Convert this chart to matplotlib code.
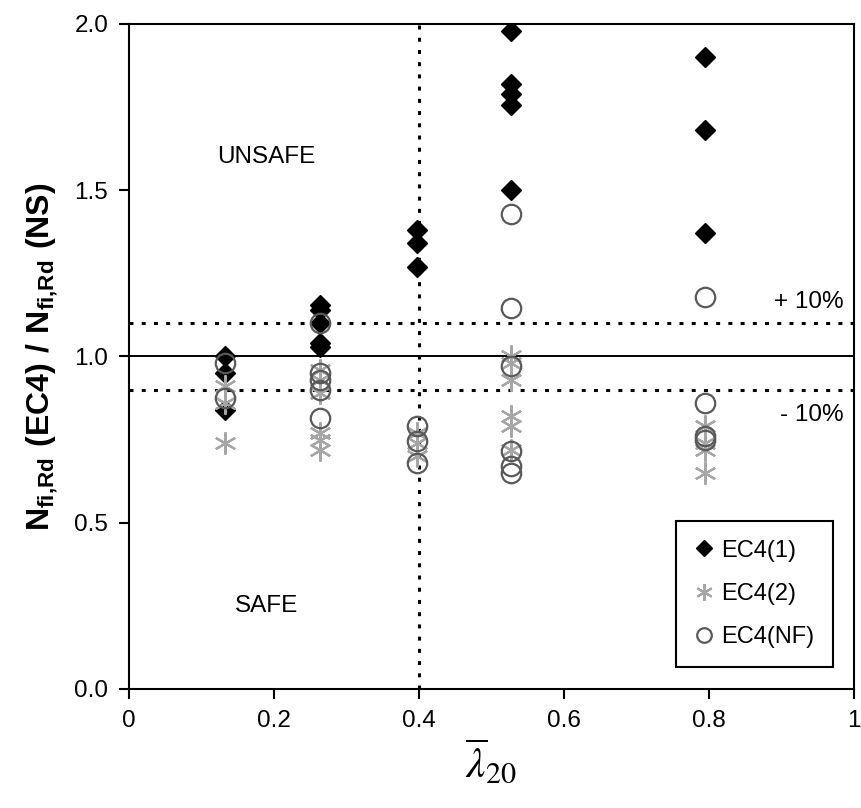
import numpy as np
import matplotlib
matplotlib.use("Agg")
import matplotlib.pyplot as plt

plt.rcParams["font.family"] = ["Liberation Sans", "DejaVu Sans"]
plt.rcParams["mathtext.fontset"] = "custom"
plt.rcParams["mathtext.rm"] = "Liberation Sans"
plt.rcParams["mathtext.bf"] = "Liberation Sans:bold"

# slenderness values of the column groups
lam = [0.132, 0.264, 0.397, 0.527, 0.795]

# ratio N_fi,Rd(EC4) / N_fi,Rd(NS), one list per slenderness group
ec4_1 = [
    [1.00, 0.95, 0.84],
    [1.155, 1.14, 1.10, 1.04, 1.03],
    [1.38, 1.34, 1.27],
    [1.98, 1.82, 1.79, 1.755, 1.50],
    [1.90, 1.68, 1.37],
]
ec4_2 = [
    [0.91, 0.86, 0.74],
    [0.96, 0.93, 0.89, 0.77, 0.75, 0.72],
    [0.77, 0.74, 0.70],
    [1.00, 0.98, 0.93, 0.82, 0.79, 0.72],
    [0.79, 0.74, 0.72, 0.65],
]
ec4_nf = [
    [0.98, 0.875],
    [1.10, 0.95, 0.93, 0.90, 0.815],
    [0.79, 0.745, 0.68],
    [1.43, 1.145, 0.97, 0.715, 0.67, 0.65],
    [1.18, 0.86, 0.76, 0.75],
]


def flatten(groups):
    xs, ys = [], []
    for x, vals in zip(lam, groups):
        xs += [x] * len(vals)
        ys += vals
    return np.array(xs), np.array(ys)


fig = plt.figure(figsize=(8.61, 8.08), dpi=100)
ax = fig.add_axes([0.1498, 0.1473, 0.8421, 0.8230])

dot = (0, (1.3, 2.7))
ax.axhline(1.0, color="black", lw=1.4, zorder=1)
ax.axhline(1.1, color="black", lw=2.2, ls=dot, zorder=1)
ax.axhline(0.9, color="black", lw=2.2, ls=dot, zorder=1)
ax.axvline(0.4, color="black", lw=2.2, ls=dot, zorder=1)

x, y = flatten(ec4_1)
ax.plot(x, y, ls="none", marker="D", ms=10.5, color="black", mec="black",
        label="EC4(1)", zorder=3)
x, y = flatten(ec4_2)
ax.plot(x, y, ls="none", marker=(6, 2, 0), ms=16, color="#a6a6a6", mew=1.6,
        label="EC4(2)", zorder=4)
x, y = flatten(ec4_nf)
ax.plot(x, y, ls="none", marker="o", ms=14, mfc="none", mec="#595959", mew=1.6,
        label="EC4(NF)", zorder=5)

ax.text(0.19, 1.6, "UNSAFE", fontsize=17.5, ha="center", va="center")
ax.text(0.19, 0.25, "SAFE", fontsize=17.5, ha="center", va="center")
ax.text(0.985, 1.165, "+ 10%", fontsize=17.5, ha="right", va="center")
ax.text(0.985, 0.825, "- 10%", fontsize=17.5, ha="right", va="center")

ax.set_xlim(0, 1)
ax.set_ylim(0, 2)
ax.set_xticks([0, 0.2, 0.4, 0.6, 0.8, 1])
ax.set_xticklabels(["0", "0.2", "0.4", "0.6", "0.8", "1"])
ax.set_yticks([0, 0.5, 1.0, 1.5, 2.0])
ax.set_yticklabels(["0.0", "0.5", "1.0", "1.5", "2.0"])
ax.tick_params(labelsize=17.5, direction="out", length=7, width=1.5, pad=8,
               top=False, right=False)
for s in ax.spines.values():
    s.set_linewidth(1.5)

ax.set_ylabel(r"$\mathbf{N_{fi{,}Rd}\ (EC4)\ /\ N_{fi{,}Rd}\ (NS)}$",
              fontsize=23, labelpad=10)
xl = ax.set_xlabel(r"$\overline{\lambda}_{20}$", fontsize=31, labelpad=4)
xl.set_math_fontfamily("stix")

leg = ax.legend(loc="lower right", bbox_to_anchor=(0.971, 0.033), fontsize=17,
                frameon=True, fancybox=False, edgecolor="black", framealpha=1,
                handlelength=0.8, handletextpad=0.3, labelspacing=0.9,
                borderpad=0.8, markerscale=0.75, borderaxespad=0)
leg.get_frame().set_linewidth(1.5)

fig.savefig("out.png", dpi=100)
plt.close(fig)
